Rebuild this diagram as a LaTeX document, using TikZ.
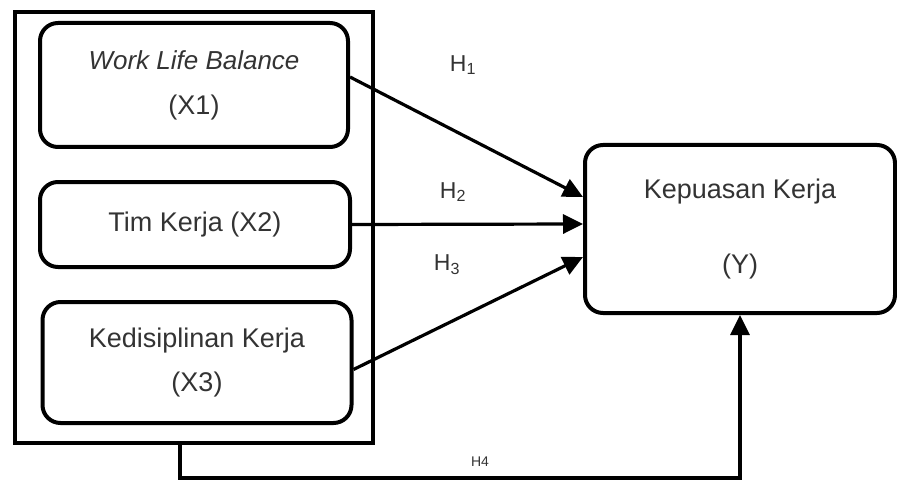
\documentclass[tikz,border=0pt]{standalone}
\usepackage{fontspec}
\setmainfont{Liberation Sans}
\usetikzlibrary{arrows.meta}
\tikzset{every edge/.style={draw,-{Triangle[length=20pt,width=19pt]},line width=3.2pt}}
\tikzstyle{varBox}=[rectangle,rounded corners=18pt,draw=black,line width=4pt,align=center,text=black!80,inner sep=0pt,font=\fontsize{27}{32}\selectfont]
\tikzstyle{frameBox}=[rectangle,draw=black,line width=3.6pt,inner sep=0pt,minimum width=358pt,minimum height=431pt]
\tikzstyle{hLabel}=[text=black!80,font=\fontsize{23}{26}\selectfont]

\begin{document}
\begin{tikzpicture}[x=1pt,y=-1pt]
	\useasboundingbox (0,0) rectangle (897,484);
	\node at (194,227.5) [frameBox] (frame) {};
	\node at (194,85) [varBox,minimum width=308pt,minimum height=124pt] (x1) {{\fontsize{26}{32}\selectfont\itshape Work Life Balance}\\[13pt](X1)};
	\node at (195,224.5) [varBox,minimum width=310pt,minimum height=85pt] (x2) {Tim Kerja (X2)};
	\node at (197,362.5) [varBox,minimum width=309pt,minimum height=121pt] (x3) {Kedisiplinan Kerja\\[12pt](X3)};
	\node at (740,229) [varBox,minimum width=310pt,minimum height=168pt] (y) {Kepuasan Kerja\\[43pt](Y)};
	\node at (463,65) [hLabel] (h1) {H\textsubscript{1}};
	\node at (453,192) [hLabel] (h2) {H\textsubscript{2}};
	\node at (447,265) [hLabel] (h3) {H\textsubscript{3}};
	\node at (480,462) [hLabel,font=\fontsize{14}{16}\selectfont] (h4) {H4};
	\coordinate (bend) at (180,478);
	\draw ([yshift=8pt]x1.east) edge ([yshift=32pt]y.west);
	\draw (x2.east) edge ([yshift=5pt]y.west);
	\draw ([yshift=-7pt]x3.east) edge ([yshift=-28pt]y.west);
	\draw[line width=3.2pt,-{Triangle[length=20pt,width=19pt]}] ([xshift=-14pt]frame.south) -- (bend) -| (y.south);
\end{tikzpicture}
\end{document}
